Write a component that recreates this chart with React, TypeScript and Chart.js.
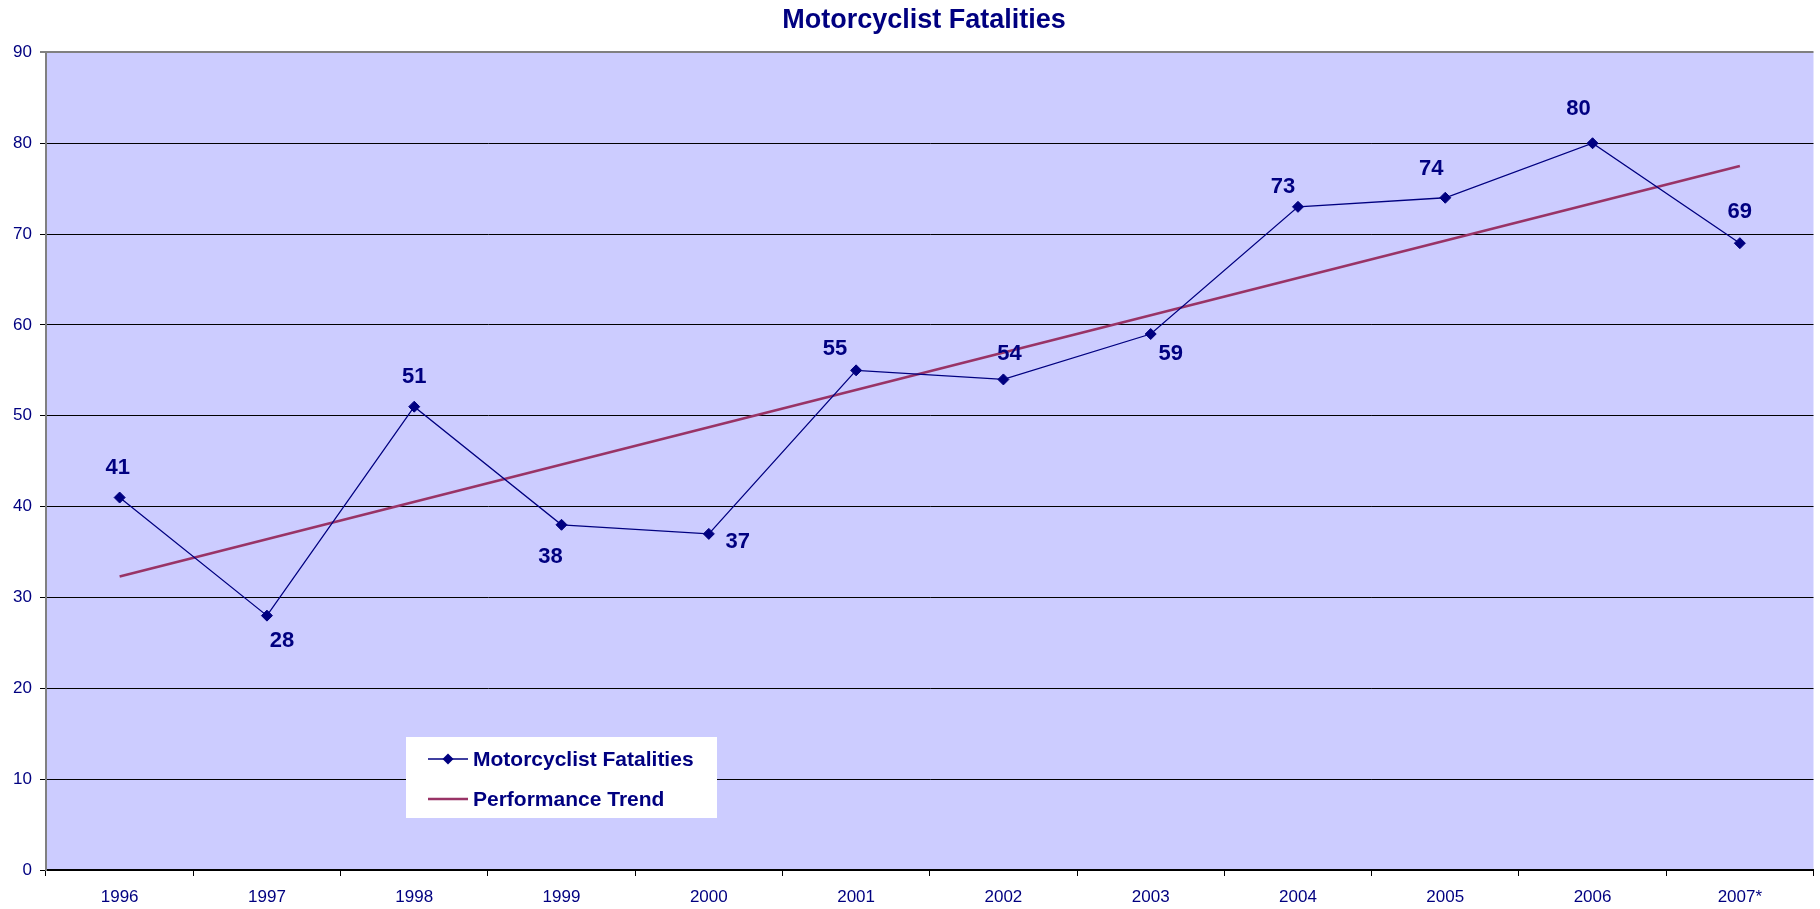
import React, { useEffect, useRef } from "react";
import { Chart, registerables } from "chart.js";

Chart.register(...registerables);

const years = ["1996", "1997", "1998", "1999", "2000", "2001", "2002", "2003", "2004", "2005", "2006", "2007*"];
const fatalities = [41, 28, 51, 38, 37, 55, 54, 59, 73, 74, 80, 69];
const trend: (number | null)[] = [32.3, null, null, null, null, null, null, null, null, null, null, 77.5];
const yTicks = [0, 10, 20, 30, 40, 50, 60, 70, 80, 90];
const titleText = "Motorcyclist Fatalities";

const NAVY = "#000080";
const TREND = "#993366";
const FONT = "'Liberation Sans', Arial, sans-serif";

// label offsets (style) relative to each point
const labelOffsets: [number, number][] = [
  [-2, -30], [15, 25], [0, -30], [-11, 32], [29, 8], [-21, -21],
  [6, -26], [20, 20], [-15, -20], [-14, -29], [-14, -34], [0, -31],
];

const plotBg = {
  id: "plotBg",
  beforeDraw(chart: any) {
    const { ctx, chartArea } = chart;
    ctx.save();
    ctx.fillStyle = "#CCCCFF";
    ctx.fillRect(chartArea.left, chartArea.top, chartArea.right - chartArea.left, chartArea.bottom - chartArea.top);
    ctx.restore();
  },
};

const titleDraw = {
  id: "titleDraw",
  afterDraw(chart: any) {
    const { ctx } = chart;
    ctx.save();
    ctx.fillStyle = NAVY;
    ctx.font = `bold 27px ${FONT}`;
    ctx.textAlign = "center";
    ctx.textBaseline = "middle";
    ctx.fillText(titleText, 924, 21);
    ctx.restore();
  },
};

const dataLabels = {
  id: "dataLabels",
  afterDatasetsDraw(chart: any) {
    const { ctx } = chart;
    const meta = chart.getDatasetMeta(0);
    const data = chart.data.datasets[0].data;
    ctx.save();
    ctx.fillStyle = NAVY;
    ctx.font = `bold 22px ${FONT}`;
    ctx.textAlign = "center";
    ctx.textBaseline = "middle";
    meta.data.forEach((pt: any, i: number) => {
      const [dx, dy] = labelOffsets[i] || [0, -30];
      ctx.fillText(String(data[i]), pt.x + dx, pt.y + dy);
    });
    ctx.restore();
  },
};

const customLegend = {
  id: "customLegend",
  afterDraw(chart: any) {
    const { ctx } = chart;
    const ds = chart.data.datasets;
    const bx = 406, by = 737, bw = 311, bh = 81;
    ctx.save();
    ctx.fillStyle = "#FFFFFF";
    ctx.fillRect(bx, by, bw, bh);
    const rows = [759, 799];
    ds.forEach((d: any, i: number) => {
      const y = rows[i];
      ctx.strokeStyle = d.borderColor;
      ctx.lineWidth = d.borderWidth;
      ctx.beginPath();
      ctx.moveTo(428, y);
      ctx.lineTo(468, y);
      ctx.stroke();
      if (i === 0) {
        ctx.fillStyle = d.pointBackgroundColor;
        ctx.beginPath();
        ctx.moveTo(448, y - 5.5);
        ctx.lineTo(453.5, y);
        ctx.lineTo(448, y + 5.5);
        ctx.lineTo(442.5, y);
        ctx.closePath();
        ctx.fill();
      }
      ctx.fillStyle = NAVY;
      ctx.font = `bold 21px ${FONT}`;
      ctx.textAlign = "left";
      ctx.textBaseline = "middle";
      ctx.fillText(d.label, 473, y + 1);
    });
    ctx.restore();
  },
};

export default function App() {
  const ref = useRef<HTMLCanvasElement | null>(null);
  useEffect(() => {
    document.body.style.margin = "0";
    document.body.style.overflow = "hidden";
    const canvas = ref.current!;
    const chart = new Chart(canvas, {
      type: "line",
      data: {
        labels: years,
        datasets: [
          {
            label: "Motorcyclist Fatalities",
            data: fatalities,
            borderColor: NAVY,
            backgroundColor: NAVY,
            pointBackgroundColor: NAVY,
            pointBorderColor: NAVY,
            borderWidth: 1.3,
            pointStyle: "rectRot",
            pointRadius: 5.5,
            pointBorderWidth: 1,
            tension: 0,
          },
          {
            label: "Performance Trend",
            data: trend,
            borderColor: TREND,
            backgroundColor: TREND,
            borderWidth: 2.5,
            pointRadius: 0,
            spanGaps: true,
            tension: 0,
          },
        ],
      },
      options: {
        responsive: false,
        animation: false,
        layout: { padding: { left: 0, right: 3, top: 0, bottom: 0 } },
        plugins: {
          legend: { display: false },
          tooltip: { enabled: false },
          title: {
            display: true,
            text: titleText,
            color: "rgba(0,0,0,0)",
            font: { family: FONT, size: 27, weight: "bold" },
            padding: { top: 5, bottom: 15 },
          },
        },
        scales: {
          x: {
            type: "category",
            offset: true,
            grid: { display: true, drawOnChartArea: false, drawTicks: true, tickLength: 6, color: "#000000", offset: true },
            border: { color: "#000000", width: 2 },
            ticks: { color: NAVY, font: { family: FONT, size: 17 }, padding: 11, maxRotation: 0, autoSkip: false },
            afterFit: (s: any) => { s.height = 39; },
          },
          y: {
            min: 0,
            max: 90,
            afterBuildTicks: (s: any) => { s.ticks = yTicks.map((v) => ({ value: v })); },
            grid: {
              color: (c: any) => (c.tick && c.tick.value === 90 ? "#808080" : "#000000"),
              lineWidth: (c: any) => (c.tick && c.tick.value === 90 ? 2 : 1),
              tickLength: 6,
            },
            border: { color: "#808080", width: 2 },
            ticks: { color: NAVY, font: { family: FONT, size: 17 }, padding: 8 },
            afterFit: (s: any) => { s.width = 46; },
          },
        },
      },
      plugins: [plotBg, dataLabels, customLegend, titleDraw],
    });
    return () => chart.destroy();
  }, []);
  return <canvas ref={ref} width={1820} height={909} style={{ display: "block" }} />;
}
